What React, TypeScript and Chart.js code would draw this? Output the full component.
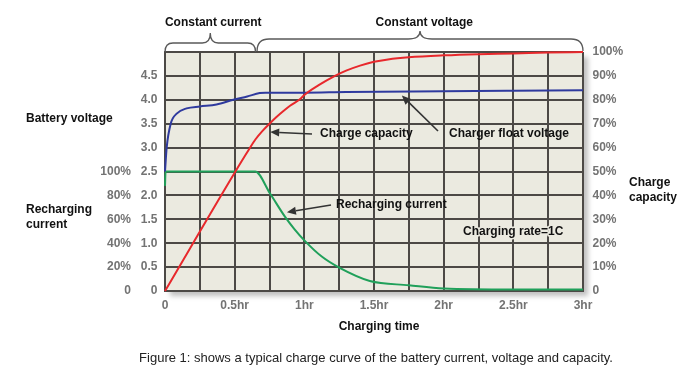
import React, { useEffect, useRef } from 'react';
import { Chart, registerables } from 'chart.js';

Chart.register(...registerables);

// ---- data ----
const capacityTime = [0, 0.5, 0.6, 0.65, 0.7, 0.75, 0.8, 0.85, 0.9, 0.97, 1.0, 1.1, 1.22, 1.3, 1.4, 1.5, 1.6, 1.75, 2.0, 2.25, 2.5, 2.75, 3.0];
const capacityPct = [0, 49.5, 59, 63.5, 67, 70, 72.8, 75.3, 77.6, 80.3, 82, 86, 90, 92.2, 94.3, 95.9, 96.9, 97.8, 98.6, 99.1, 99.4, 99.8, 100];

const voltageTime = [0, 0.012, 0.041, 0.084, 0.155, 0.25, 0.37, 0.49, 0.59, 0.68, 0.72, 1.0, 1.3, 2.0, 2.5, 3.0];
const voltageV = [2.5, 3.0, 3.5, 3.71, 3.82, 3.86, 3.9, 4.0, 4.07, 4.14, 4.15, 4.15, 4.165, 4.18, 4.19, 4.2];

const currentTime = [0, 0.004, 0.647, 0.754, 0.862, 0.93, 1.0, 1.125, 1.25, 1.47, 1.75, 2.0, 2.5, 3.0];
const currentPct = [88, 100, 100, 81.6, 62, 51.6, 42.4, 28.8, 19.6, 8.4, 4.8, 2, 1.2, 1.2];

const xTickLabels = ['0', '0.5hr', '1hr', '1.5hr', '2hr', '2.5hr', '3hr'];
const voltageTickLabels = ['0', '0.5', '1.0', '1.5', '2.0', '2.5', '3.0', '3.5', '4.0', '4.5'];
const currentTickLabels = ['0', '20%', '40%', '60%', '80%', '100%'];
const capacityTickLabels = ['0', '10%', '20%', '30%', '40%', '50%', '60%', '70%', '80%', '90%', '100%'];

const constantCurrentEnd = 0.65; // hr, end of the constant-current phase

const FONT = "'Liberation Sans', Arial, Helvetica, sans-serif";
const GRID = '#4c4946';
const TICK_COLOR = '#737373';
const BG = '#ebeae0';

function pts(xs: number[], ys: number[]) {
  return xs.map((x, i) => ({ x, y: ys[i] }));
}

function drawBrace(ctx: CanvasRenderingContext2D, x1: number, x2: number, yEnd: number, yMid: number, yTop: number, r: number) {
  const xc = (x1 + x2) / 2;
  ctx.beginPath();
  ctx.moveTo(x1, yEnd);
  ctx.quadraticCurveTo(x1, yMid, x1 + r, yMid);
  ctx.lineTo(xc - r, yMid);
  ctx.quadraticCurveTo(xc, yMid, xc, yTop);
  ctx.quadraticCurveTo(xc, yMid, xc + r, yMid);
  ctx.lineTo(x2 - r, yMid);
  ctx.quadraticCurveTo(x2, yMid, x2, yEnd);
  ctx.stroke();
}

function drawArrow(ctx: CanvasRenderingContext2D, x0: number, y0: number, x1: number, y1: number) {
  const ang = Math.atan2(y1 - y0, x1 - x0);
  const len = 9;
  const w = 4;
  const bx = x1 - Math.cos(ang) * len;
  const by = y1 - Math.sin(ang) * len;
  ctx.beginPath();
  ctx.moveTo(x0, y0);
  ctx.lineTo(bx, by);
  ctx.stroke();
  ctx.beginPath();
  ctx.moveTo(x1, y1);
  ctx.lineTo(bx + Math.sin(ang) * w, by - Math.cos(ang) * w);
  ctx.lineTo(bx - Math.sin(ang) * w, by + Math.cos(ang) * w);
  ctx.closePath();
  ctx.fill();
}

const decorPlugin = {
  id: 'decor',
  beforeDraw(chart: any) {
    const { ctx, chartArea: a } = chart;
    ctx.save();
    ctx.fillStyle = '#ffffff';
    ctx.fillRect(0, 0, chart.width, chart.height);
    ctx.shadowColor = 'rgba(0,0,0,0.25)';
    ctx.shadowOffsetX = 5;
    ctx.shadowOffsetY = 5;
    ctx.shadowBlur = 5;
    ctx.fillStyle = BG;
    ctx.fillRect(a.left, a.top, a.right - a.left, a.bottom - a.top);
    ctx.restore();
  },
  afterDraw(chart: any) {
    const { ctx, chartArea: a, scales } = chart;
    const xs = scales.x;
    const yv = scales.y;
    const yc = scales.yc;
    const y2 = scales.y2;
    ctx.save();
    ctx.fillStyle = '#111';
    ctx.textBaseline = 'middle';
    ctx.font = `bold 12px ${FONT}`;

    // phase braces
    ctx.strokeStyle = '#5a5a5a';
    ctx.lineWidth = 1.3;
    const xb = xs.getPixelForValue(constantCurrentEnd);
    drawBrace(ctx, a.left, xb, a.top, a.top - 9, a.top - 19, 8);
    drawBrace(ctx, xb + 1.5, a.right, a.top - 1, a.top - 13, a.top - 21, 12);
    ctx.textAlign = 'center';
    ctx.fillText('Constant current', (a.left + xb) / 2 + 3, 23);
    ctx.fillText('Constant voltage', (xb + a.right) / 2 + 5, 23);

    // axis titles
    ctx.textAlign = 'left';
    ctx.fillText('Battery voltage', 26, 119);
    ctx.fillText('Recharging', 26, 210);
    ctx.fillText('current', 26, 225);
    ctx.fillText('Charge', 629, 183);
    ctx.fillText('capacity', 629, 198);
    ctx.textAlign = 'center';
    ctx.fillText('Charging time', (a.left + a.right) / 2 + 5, 327);

    // annotations
    ctx.textAlign = 'left';
    ctx.strokeStyle = '#333';
    ctx.fillStyle = '#333';
    ctx.lineWidth = 1.6;
    drawArrow(ctx, 312, 134, xs.getPixelForValue(0.755), y2.getPixelForValue(66.5));
    drawArrow(ctx, 438, 131, xs.getPixelForValue(1.7), yv.getPixelForValue(4.09));
    drawArrow(ctx, 331, 205, xs.getPixelForValue(0.875), yc.getPixelForValue(66));

    ctx.fillStyle = '#111';
    ctx.fillText('Charge capacity', 320, 134);
    ctx.fillText('Charger float voltage', 449, 134);
    ctx.fillText('Recharging current', 336, 205);
    ctx.strokeStyle = BG;
    ctx.lineWidth = 3;
    ctx.lineJoin = 'round';
    ctx.strokeText('Charging rate=1C', 463, 232);
    ctx.fillText('Charging rate=1C', 463, 232);

    // caption
    ctx.font = `13px ${FONT}`;
    ctx.fillStyle = '#222';
    ctx.textAlign = 'center';
    ctx.fillText('Figure 1: shows a typical charge curve of the battery current, voltage and capacity.', 376, 358);
    ctx.restore();
  },
};

export default function App() {
  const ref = useRef<HTMLCanvasElement | null>(null);

  useEffect(() => {
    if (!ref.current) return;
    const tickFont = { family: FONT, size: 12, weight: 'bold' as const };
    const chart = new Chart(ref.current, {
      type: 'line',
      data: {
        datasets: [
          {
            label: 'Charge capacity',
            data: pts(capacityTime, capacityPct),
            yAxisID: 'y2',
            borderColor: '#e8282c',
            borderWidth: 2,
            pointRadius: 0,
            cubicInterpolationMode: 'monotone',
            clip: 4,
          },
          {
            label: 'Battery voltage',
            data: pts(voltageTime, voltageV),
            yAxisID: 'y',
            borderColor: '#2f3a9e',
            borderWidth: 2,
            pointRadius: 0,
            cubicInterpolationMode: 'monotone',
            clip: 4,
          },
          {
            label: 'Recharging current',
            data: pts(currentTime, currentPct),
            yAxisID: 'yc',
            borderColor: '#20a05a',
            borderWidth: 2,
            pointRadius: 0,
            cubicInterpolationMode: 'monotone',
            clip: 4,
          },
        ],
      },
      options: {
        responsive: false,
        animation: false,
        events: [],
        layout: { padding: { top: 52, left: 0, right: 0, bottom: 0 } },
        plugins: { legend: { display: false }, tooltip: { enabled: false }, title: { display: false } },
        scales: {
          x: {
            type: 'linear',
            min: 0,
            max: 3,
            afterFit: (s: any) => { s.height = 88; },
            grid: { color: GRID, lineWidth: 2, drawTicks: false },
            border: { display: true, color: GRID, width: 2 },
            ticks: {
              stepSize: 0.25,
              autoSkip: false,
              maxRotation: 0,
              padding: 7,
              color: TICK_COLOR,
              font: tickFont,
              callback: (_v: any, i: number) => (i % 2 === 0 ? xTickLabels[i / 2] ?? '' : ''),
            },
          },
          y: {
            type: 'linear',
            position: 'left',
            weight: 0,
            min: 0,
            max: 5,
            afterFit: (s: any) => { s.width = 29; },
            grid: { color: GRID, lineWidth: 2, drawTicks: false },
            border: { display: true, color: GRID, width: 2 },
            ticks: {
              stepSize: 0.5,
              padding: 7.5,
              color: TICK_COLOR,
              font: tickFont,
              callback: (_v: any, i: number) => voltageTickLabels[i] ?? '',
            },
          },
          yc: {
            type: 'linear',
            position: 'left',
            weight: 10,
            min: 0,
            max: 200,
            afterFit: (s: any) => { s.width = 136; },
            grid: { display: false, drawTicks: false },
            border: { display: false },
            ticks: {
              stepSize: 20,
              padding: 5,
              color: TICK_COLOR,
              font: tickFont,
              callback: (_v: any, i: number) => currentTickLabels[i] ?? '',
            },
          },
          y2: {
            type: 'linear',
            position: 'right',
            min: 0,
            max: 100,
            afterFit: (s: any) => { s.width = 109; },
            grid: { display: false, drawTicks: false },
            border: { display: false },
            ticks: {
              stepSize: 10,
              padding: 9.5,
              color: TICK_COLOR,
              font: tickFont,
              callback: (_v: any, i: number) => capacityTickLabels[i] ?? '',
            },
          },
        },
      },
      plugins: [decorPlugin],
    } as any);
    return () => chart.destroy();
  }, []);

  return (
    <div style={{ position: 'fixed', left: 0, top: 0, width: 692, height: 379, background: '#fff' }}>
      <canvas ref={ref} width={692} height={379} style={{ display: 'block', width: 692, height: 379 }} />
    </div>
  );
}
